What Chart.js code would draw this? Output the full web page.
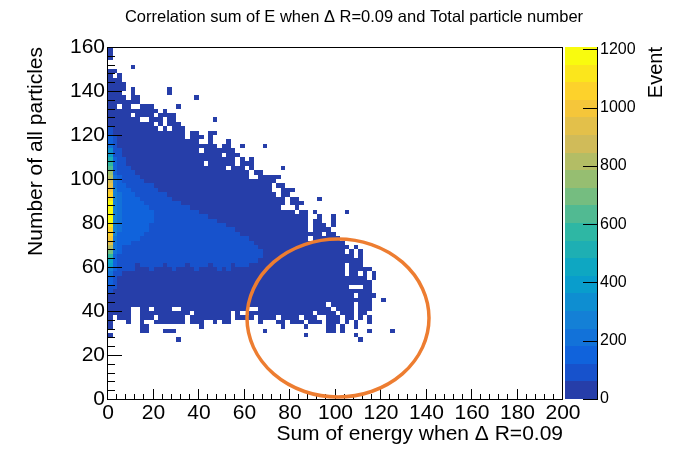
<!DOCTYPE html>
<html>
<head>
<meta charset="utf-8">
<script src="https://cdn.jsdelivr.net/npm/chart.js@4.4.1/dist/chart.umd.min.js"></script>
<style>
html,body{margin:0;padding:0;background:#fff}
canvas{display:block}
</style>
</head>
<body>
<canvas id="chart" width="674" height="449"></canvas>
<script>
const title = "Correlation sum of E when \u0394 R=0.09 and Total particle number";
const xTitle = "Sum of energy when \u0394 R=0.09";
const yTitle = "Number of all particles";
const zTitle = "Event";

const xRange = [0, 200];
const yRange = [0, 160];
const zRange = [0, 1208];
const zTickValues = [0, 200, 400, 600, 800, 1000, 1200];

// histogram bins: 2 x 2 units, rows listed from top (row 79) down
// run-length: "c*n" = n cells of level c, "." = empty, levels 0..9,a..j (colour band)
const binX = 2, binY = 2;
const topRow = 79;
const cellRows = [
"0",
"0",
"0",
"",
".*5 0",
"0*2",
"0 . 0",
"0*3",
"0*4",
"0*4 . 0 .*7 0",
"0*3 .*2 0 .*7 0",
"0*4 . 0*2 .*12 0",
"0*7",
"0*2 . 0*2 .*2 0*3 .*5 0",
"0*11 . 0",
"0*5 . 0*4 . 0*4",
"0*7 .*2 0*3 . 0*2 .*8 0",
"0*10 . 0 . 0*3",
"1 0*10 . 0 . 0*3",
"1 0*16 . 0*2 .*2 0*2",
"2 1 0*15 . 0*3 . 0",
"2 1 0*18 .*2 0 .*3 0",
"3 1 0*22 . 0*2 .*2 0 .*4 0",
"5 1 1 0*17 . 0*7",
"6 1 1 0*22 . 0*3",
"8 2 1*2 0*24 . 0 . 0",
"9 2 1*2 0*17 . 0*6 . 0*3",
"a 2 1*3 0*21 . 0*3 . 0 .*6 0",
"c 2 1*4 0*25 . 0*2",
"d 3 2 1*4 0*24 .*2 0*5",
"e 3 2 1*5 0*29",
"f 3 2*2 1*6 0*26 . 0*2",
"g 4 2*3 1*6 0*25 .*2 0*3",
"h 4 3 2*3 1*7 0*24 . 0*2",
"i 4 3 2*4 1*7 0*25 . 0*2 .*4 0",
"j 4 3 2*5 1*8 0*23 . 0*3",
"j 4 3 2*6 1*9 0*20 .*3 0",
"j 4 3 2*7 1*10 0*21 . 0*2 . 0 .*6 0",
"j 4 3 2*7 1*12 0*22 .*2 0 .*2 0",
"j 4 3 2*7 1*14 0*20 . 0*2 .*2 0",
"i 4 3 2*6 1*17 0*18 . 0*3 . 0",
"h 4 3 2*6 1*19 0*16 . 0*4",
"h 4 2 2*5 1*21 0*18 . 0*2",
"g 3 2 2*4 1*24 0*13 . 0*6",
"f 3 2 2*2 1*27 0*20",
"d 3 2 1*30 0*20 . 0",
"b 3 2 1*31 0*18 . 0 . 0",
"9 2 1*32 0*20 . 0",
"7 2 1*31 0*23",
"6 2 1*4 0 1*5 0 1*4 0 1*4 0 1*4 0 1*3 0*21 . 0*3",
"4 2 1*4 0*3 1 0*4 1 0*4 1 0*4 1 0 1 0*25 . 0*5",
"3 1 1 0*49 . 0*2 . 0 . 0",
"2 1 0*55 . 0",
"2 1 0*56",
"1 1 0*51 .*3 0*2",
"1 0*57",
"0*54 . 0*4",
"0*58 .*2 0",
"0*48 . 0*5 . 0*3",
"0*5 .*2 0*2 . 0*4 .*2 0*15 .*2 0*16 . 0*4 . 0*3",
"0*5 .*2 0*11 . 0*8 . 0 .*2 0*14 . 0*4 . 0*3 . 0*2",
"0 . 0*3 .*2 0*3 . 0*6 . 0*9 . 0*4 . 0*4 . 0*4 . 0*3 .*2 0*3 . 0*2 . 0 . 0",
"0 .*3 0 .*2 0 .*2 0*7 . 0*3 .*2 0 . 0*2 .*6 0 .*3 0*2 . 0*3 . 0*3 . 0*3 . 0 . 0 .*2 0",
"0 .*6 0*2 .*11 0 .*17 0 .*4 0 .*4 0*2 . 0 .*2 0",
".*7 0*2 .*3 0*3 .*19 0 .*13 0*2 . 0 .*5 0 .*4 0",
"0 .*42 0 .*10 0",
".*15 0 .*39 0"
];

// the marked region (orange ellipse), in axis units
const ringCenter = [101.1, 36.8];
const ringRadius = [40, 35.9];

const nBands = 20;
const bandSize = zRange[1] / nBands;

// kBird palette
const birdStop = [0, .125, .25, .375, .5, .625, .75, .875, 1];
const birdR = [0.2082, 0.0592, 0.0780, 0.0232, 0.1802, 0.5301, 0.8186, 0.9956, 0.9764];
const birdG = [0.1664, 0.3599, 0.5041, 0.6419, 0.7178, 0.7492, 0.7328, 0.7862, 0.9832];
const birdB = [0.5293, 0.8684, 0.8385, 0.7914, 0.6425, 0.4662, 0.3499, 0.1968, 0.0539];

function bird(f){
let i = 0;
while(i < birdStop.length-2 && f > birdStop[i+1]) i++;
let t = (f - birdStop[i])/(birdStop[i+1]-birdStop[i]);
let c = arr => Math.round(255*(arr[i] + (arr[i+1]-arr[i])*t));
return `rgb(${c(birdR)},${c(birdG)},${c(birdB)})`;
}

function bandColor(k){
return bird(Math.min(1,(k+0.99)/nBands));
}

function parseCells(){
let cells = [];
cellRows.forEach((line,r)=>{
let col = 0;
let row = topRow - r;
line.split(" ").filter(s=>s).forEach(tok=>{
let [c,n] = tok.split("*");
n = n ? parseInt(n) : 1;
for(let k=0;k<n;k++){
if(c !== "."){
let level = parseInt(c,20);
cells.push({x:col*binX, y:row*binY, v:(level+0.5)*bandSize});
}
col++;
}
});
});
return cells;
}

const fam = '"Liberation Sans", Arial, Helvetica, sans-serif';

const rootLook = {
id:"rootLook",
beforeDatasetsDraw(chart){
const {ctx, chartArea:a, scales:{x,y,z}} = chart;
ctx.save();
chart.data.datasets[0].data.forEach(c=>{
let x0 = Math.round(x.getPixelForValue(c.x)), x1 = Math.round(x.getPixelForValue(c.x+binX));
let y0 = Math.round(y.getPixelForValue(c.y+binY)), y1 = Math.round(y.getPixelForValue(c.y));
ctx.fillStyle = bandColor(Math.min(nBands-1, Math.floor(c.v/bandSize)));
ctx.fillRect(x0, y0, x1-x0, y1-y0);
});
// palette box
let bx0 = a.right+2, bx1 = a.right+34;
for(let k=0;k<nBands;k++){
let p0 = Math.round(z.getPixelForValue(k*bandSize)), p1 = Math.round(z.getPixelForValue((k+1)*bandSize));
ctx.fillStyle = bandColor(k);
ctx.fillRect(bx0, p1, bx1-bx0, p0-p1);
}
ctx.restore();
},
afterDatasetsDraw(chart){
const {ctx, chartArea:a, scales:{x,y,z}} = chart;
ctx.save();
ctx.strokeStyle = "#000";
ctx.lineWidth = 1;
ctx.strokeRect(a.left-0.5, a.top+0.5, a.right-a.left, a.bottom-a.top);
ctx.beginPath();
for(let v=xRange[0]; v<=xRange[1]; v+=4){
let px = Math.round(x.getPixelForValue(v))-0.5;
let len = v%20===0 ? 10 : 5;
ctx.moveTo(px, a.bottom); ctx.lineTo(px, a.bottom-len);
}
for(let v=yRange[0]; v<=yRange[1]; v+=4){
let py = Math.round(y.getPixelForValue(v))+0.5;
let len = v%20===0 ? 14 : 7;
ctx.moveTo(a.left, py); ctx.lineTo(a.left+len, py);
}
let bx1 = a.right+34;
zTickValues.forEach(v=>{
let py = Math.round(z.getPixelForValue(v))+0.5;
ctx.moveTo(bx1-14, py); ctx.lineTo(bx1, py);
});
ctx.moveTo(bx1+0.5, a.top); ctx.lineTo(bx1+0.5, a.bottom+1);
ctx.stroke();

// ellipse
let cx = x.getPixelForValue(ringCenter[0]), cy = y.getPixelForValue(ringCenter[1]);
let rx = x.getPixelForValue(ringCenter[0]+ringRadius[0]) - cx;
let ry = cy - y.getPixelForValue(ringCenter[1]+ringRadius[1]);
ctx.beginPath();
ctx.ellipse(cx, cy, rx, ry, 0, 0, Math.PI*2);
ctx.strokeStyle = "#ED7D31";
ctx.lineWidth = 3.5;
ctx.stroke();

// titles
ctx.fillStyle = "#000";
ctx.font = `16.5px ${fam}`;
ctx.textAlign = "center";
ctx.textBaseline = "middle";
ctx.fillText(title, 354, 17);
ctx.translate(662, a.top);
ctx.rotate(-Math.PI/2);
ctx.font = `20px ${fam}`;
ctx.textAlign = "right";
ctx.textBaseline = "alphabetic";
ctx.fillText(zTitle, 0, 0);
ctx.restore();
}
};

const cells = parseCells();

new Chart(document.getElementById("chart"), {
type:"scatter",
data:{datasets:[{data:cells, pointRadius:0, showLine:false}]},
options:{
responsive:false,
animation:false,
devicePixelRatio:1,
events:[],
layout:{padding:{top:47,left:0,right:0,bottom:0}},
plugins:{legend:{display:false}, tooltip:{enabled:false}, title:{display:false}},
scales:{
x:{
type:"linear", position:"bottom", min:xRange[0], max:xRange[1],
grid:{display:false, drawTicks:false}, border:{display:false},
ticks:{stepSize:20, padding:2, color:"#000", maxRotation:0, autoSkip:false, font:{family:fam, size:21}},
title:{display:true, text:xTitle, align:"end", color:"#000", font:{family:fam, size:21}, padding:{top:0,bottom:2}},
afterFit(s){ s.height = 50; }
},
y:{
type:"linear", position:"left", min:yRange[0], max:yRange[1],
grid:{display:false, drawTicks:false}, border:{display:false},
ticks:{stepSize:20, padding:3, color:"#000", font:{family:fam, size:21}},
title:{display:true, text:yTitle, align:"end", color:"#000", font:{family:fam, size:21}, padding:{top:24,bottom:0}},
afterFit(s){ s.width = 108; }
},
z:{
type:"linear", position:"right", min:zRange[0], max:zRange[1],
grid:{display:false, drawTicks:false}, border:{display:false},
afterBuildTicks(s){ s.ticks = zTickValues.map(v=>({value:v})); },
ticks:{padding:37, color:"#000", font:{family:fam, size:16}, callback:v=>String(v)},
afterFit(s){ s.width = 111; }
}
}
},
plugins:[rootLook]
});
</script>
</body>
</html>
